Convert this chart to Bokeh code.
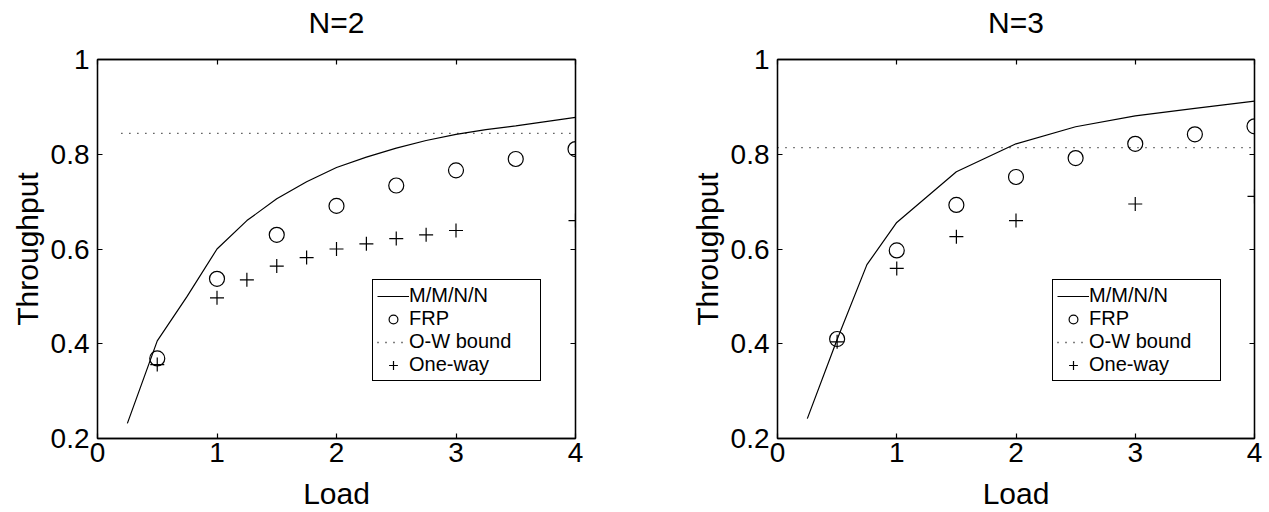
from bokeh.plotting import figure
from bokeh.layouts import row
from bokeh.models import (LinearAxis, FixedTicker, CustomJSTickFormatter,
                          Range1d, Legend, LegendItem)
from bokeh.embed import file_html
from bokeh.resources import INLINE

FONT = "Liberation Sans"

# ---------------- data ----------------
titles = ["N=2", "N=3"]

mmnn_load_n2 = [0.25, 0.5, 0.75, 1.0, 1.25, 1.5, 1.75, 2.0, 2.25, 2.5, 2.75, 3.0, 3.25, 3.5, 3.75, 4.0]
mmnn_n2 = [0.232, 0.406, 0.500, 0.600, 0.660, 0.706, 0.742, 0.772, 0.794, 0.813, 0.829, 0.842, 0.852, 0.860, 0.869, 0.878]

mmnn_load_n3 = [0.25, 0.5, 0.75, 1.0, 1.5, 2.0, 2.5, 3.0, 3.5, 4.0]
mmnn_n3 = [0.242, 0.409, 0.567, 0.656, 0.763, 0.822, 0.858, 0.881, 0.897, 0.912]

frp_load = [0.5, 1.0, 1.5, 2.0, 2.5, 3.0, 3.5, 4.0]
frp_n2 = [0.369, 0.537, 0.630, 0.691, 0.734, 0.766, 0.790, 0.811]
frp_n3 = [0.410, 0.597, 0.693, 0.752, 0.792, 0.822, 0.842, 0.859]

ow_load_n2 = [0.2, 4.0]
ow_n2 = [0.844, 0.844]
ow_load_n3 = [0.0, 4.0]
ow_n3 = [0.814, 0.814]

oneway_load_n2 = [0.5, 1.0, 1.25, 1.5, 1.75, 2.0, 2.25, 2.5, 2.75, 3.0, 4.0]
oneway_n2 = [0.356, 0.497, 0.535, 0.564, 0.582, 0.600, 0.611, 0.622, 0.630, 0.639, 0.660]
oneway_load_n3 = [0.5, 1.0, 1.5, 2.0, 3.0, 4.0]
oneway_n3 = [0.404, 0.559, 0.626, 0.660, 0.695, 0.711]

x_ticks = [0, 1, 2, 3, 4]
y_ticks = [0.2, 0.4, 0.6, 0.8, 1.0]
legend_labels = ["M/M/N/N", "FRP", "O-W bound", "One-way"]


def make_panel(title, ml, mv, fl, fv, ol, ov, wl, wv, width, bl, br):
    p = figure(width=width, height=512, output_backend="svg", toolbar_location=None,
               x_range=Range1d(0, 4), y_range=Range1d(0.2, 1.0),
               min_border_left=bl, min_border_right=br,
               min_border_top=59, min_border_bottom=73)
    p.grid.visible = False
    p.outline_line_color = "black"
    p.outline_line_width = 1.3
    p.outline_line_alpha = 1.0
    p.background_fill_color = "white"
    p.border_fill_color = "white"

    fmt = CustomJSTickFormatter(code="return String(Math.round(tick*10)/10)")
    for ax, ticks in ((p.xaxis[0], x_ticks), (p.yaxis[0], y_ticks)):
        ax.ticker = FixedTicker(ticks=ticks)
        ax.formatter = fmt
        ax.major_label_text_font = FONT
        ax.major_label_text_font_size = "28px"
        ax.major_label_text_color = "black"
        ax.axis_label_text_font = FONT
        ax.axis_label_text_font_size = "30px"
        ax.axis_label_text_font_style = "normal"
        ax.axis_label_text_color = "black"
        ax.major_tick_in = 5
        ax.major_tick_out = 0
        ax.minor_tick_line_color = None
        ax.axis_line_width = 1.3
        ax.major_tick_line_width = 1.2
    p.xaxis.axis_label = "Load"
    p.yaxis.axis_label = "Throughput"
    p.xaxis.major_label_standoff = 4
    p.yaxis.major_label_standoff = 8
    p.xaxis.axis_label_standoff = 12
    p.yaxis.axis_label_standoff = 4

    # top axis carries the panel title as its label; right axis only ticks
    for loc, ticks, lab in (("above", x_ticks, title), ("right", y_ticks, None)):
        ax = LinearAxis(ticker=FixedTicker(ticks=ticks),
                        major_label_text_color=None,
                        major_label_text_font_size="1px",
                        major_label_standoff=0,
                        major_tick_in=5, major_tick_out=0,
                        minor_tick_line_color=None,
                        axis_line_width=1.3, major_tick_line_width=1.2)
        if lab:
            ax.axis_label = lab
            ax.axis_label_text_font = FONT
            ax.axis_label_text_font_size = "30px"
            ax.axis_label_text_font_style = "normal"
            ax.axis_label_text_color = "black"
            ax.axis_label_standoff = 21
        p.add_layout(ax, loc)

    r_line = p.line(ml, mv, line_color="black", line_width=1.2)
    r_frp = p.scatter(fl, fv, marker="circle", size=15, fill_color=None,
                      line_color="black", line_width=1.2)
    r_ow = p.line(wl, wv, line_color="black", line_width=1.3, line_dash="1 7")
    r_one = p.scatter(ol, ov, marker="cross", size=14, line_color="black",
                      line_width=1.2)

    legend = Legend(items=[LegendItem(label=legend_labels[0], renderers=[r_line]),
                           LegendItem(label=legend_labels[1], renderers=[r_frp]),
                           LegendItem(label=legend_labels[2], renderers=[r_ow]),
                           LegendItem(label=legend_labels[3], renderers=[r_one])],
                    location=(275, 57))
    legend.label_text_font = FONT
    legend.label_text_font_size = "20px"
    legend.label_text_color = "black"
    legend.padding = 4
    legend.spacing = 0
    legend.glyph_width = 32
    legend.glyph_height = 22
    legend.label_height = 22
    legend.label_standoff = 0
    legend.label_width = 127
    legend.border_line_color = "black"
    legend.border_line_alpha = 1.0
    legend.border_line_width = 1.2
    legend.background_fill_alpha = 1.0
    legend.margin = 0
    p.add_layout(legend, "center")
    return p


p1 = make_panel(titles[0], mmnn_load_n2, mmnn_n2, frp_load, frp_n2,
                oneway_load_n2, oneway_n2, ow_load_n2, ow_n2, 640, 97, 65)
p2 = make_panel(titles[1], mmnn_load_n3, mmnn_n3, frp_load, frp_n3,
                oneway_load_n3, oneway_n3, ow_load_n3, ow_n3, 629, 137, 15)

layout = row(p1, p2)
open("out.html", "w").write(file_html(layout, INLINE))
